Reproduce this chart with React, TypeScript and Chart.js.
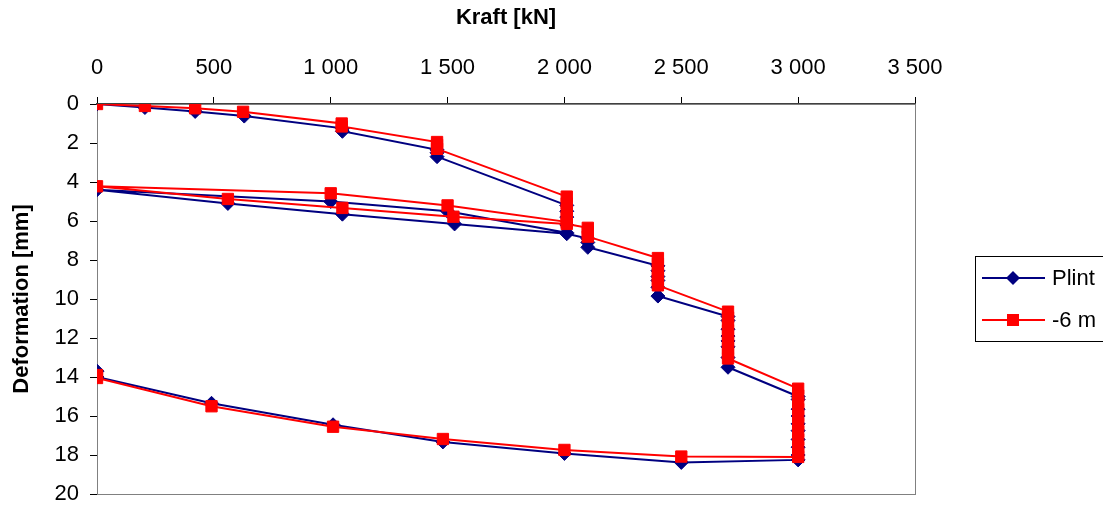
import React, { useEffect, useRef } from "react";
import { Chart, registerables } from "chart.js";

Chart.register(...registerables);

// Pile load test: applied force [kN] and measured deformation [mm]
const plintLoad = [
  0, 205, 420, 630, 1050, 1050, 1455, 1455, 1455,
  2010, 2010, 2010, 2010, 2010,
  1500, 1000, 0, 560, 1050, 1530, 2010,
  2100, 2100, 2100,
  2400, 2400, 2400, 2400, 2400, 2400,
  2700, 2700, 2700, 2700, 2700, 2700, 2700, 2700,
  3000, 3000, 3000, 3000, 3000, 3000, 3000, 3000, 3000, 3000,
  2500, 2000, 1480, 1010, 490, 0, 0,
];
const plintDef = [
  0, 0.18, 0.38, 0.62, 1.25, 1.4, 2.35, 2.5, 2.7,
  5.2, 5.5, 5.8, 6.2, 6.6,
  5.5, 5.0, 4.4, 5.1, 5.65, 6.15, 6.65,
  6.9, 7.1, 7.35,
  8.3, 8.55, 8.85, 9.05, 9.4, 9.85,
  10.9, 11.1, 11.55, 11.9, 12.15, 12.45, 13.0, 13.5,
  15.0, 15.15, 15.65, 16.0, 16.4, 16.75, 17.2, 17.6, 18.0, 18.25,
  18.38, 17.92, 17.33, 16.45, 15.35, 14.0, 13.7,
];

const minus6Load = [
  0, 205, 420, 625, 1047, 1047, 1455, 1455, 1455,
  2010, 2010, 2010, 2010, 2010,
  1500, 1000, 0, 560, 1050, 1525, 2010,
  2100, 2100, 2100,
  2400, 2400, 2400, 2400, 2400, 2400,
  2700, 2700, 2700, 2700, 2700, 2700, 2700, 2700, 2700,
  3000, 3000, 3000, 3000, 3000, 3000, 3000, 3000, 3000, 3000, 3000,
  2500, 2000, 1480, 1010, 490, 0, 0,
];
const minus6Def = [
  0, 0.1, 0.22, 0.4, 1.0, 1.15, 1.95, 2.1, 2.3,
  4.75, 5.1, 5.45, 5.8, 6.05,
  5.2, 4.58, 4.22, 4.87, 5.33, 5.78, 6.15,
  6.35, 6.55, 6.8,
  7.9, 8.2, 8.5, 8.8, 9.05, 9.3,
  10.65, 10.95, 11.3, 11.6, 11.9, 12.2, 12.5, 12.8, 13.05,
  14.6, 14.95, 15.3, 15.65, 16.0, 16.4, 16.8, 17.2, 17.6, 17.95, 18.1,
  18.08, 17.74, 17.18, 16.55, 15.5, 14.05, 13.9,
];

const seriesNames = ["Plint", "-6 m"];
const seriesColors = ["#000080", "#FF0000"];

const xTitle = "Kraft [kN]";
const yTitle = "Deformation [mm]";
const xMin = 0, xMax = 3500, xStep = 500;
const yMin = 0, yMax = 20, yStep = 2;

const FONT = "'Liberation Sans', Arial, sans-serif";

const withSpaces = (v: number) =>
  String(Math.round(v)).replace(/\B(?=(\d{3})+(?!\d))/g, " ");

const toPoints = (xs: number[], ys: number[]) =>
  xs.map((x, i) => ({ x, y: ys[i] }));

// Frame around the plot area
const framePlugin = {
  id: "plotFrame",
  beforeDatasetsDraw(chart: any) {
    const { ctx, chartArea: a } = chart;
    ctx.save();
    ctx.strokeStyle = "#808080";
    ctx.lineWidth = 1;
    ctx.strokeRect(a.left + 0.5, a.top + 0.5, a.right - a.left, a.bottom - a.top);
    ctx.restore();
  },
};

// Boxed legend at the right
const legendPlugin = {
  id: "boxLegend",
  afterDraw(chart: any) {
    const { ctx } = chart;
    ctx.save();
    ctx.strokeStyle = "#000000";
    ctx.lineWidth = 1;
    ctx.strokeRect(975.5, 256.5, 200, 85);
    const rows = [278, 320];
    rows.forEach((y, i) => {
      const color = seriesColors[i];
      ctx.strokeStyle = color;
      ctx.fillStyle = color;
      ctx.lineWidth = 2;
      ctx.beginPath();
      ctx.moveTo(982, y);
      ctx.lineTo(1045, y);
      ctx.stroke();
      const cx = 1013;
      if (i === 0) {
        ctx.beginPath();
        ctx.moveTo(cx - 7, y);
        ctx.lineTo(cx, y - 7);
        ctx.lineTo(cx + 7, y);
        ctx.lineTo(cx, y + 7);
        ctx.closePath();
        ctx.fill();
      } else {
        ctx.fillRect(cx - 6, y - 6, 12, 12);
      }
      ctx.fillStyle = "#000000";
      ctx.font = `22px ${FONT}`;
      ctx.textAlign = "left";
      ctx.textBaseline = "middle";
      ctx.fillText(seriesNames[i], 1052, y + 1);
    });
    ctx.restore();
  },
};

export default function App() {
  const canvasRef = useRef<HTMLCanvasElement | null>(null);

  useEffect(() => {
    document.body.style.margin = "0";
    const canvas = canvasRef.current;
    if (!canvas) return;
    const chart = new Chart(canvas, {
      type: "scatter",
      data: {
        datasets: [
          {
            label: seriesNames[0],
            data: toPoints(plintLoad, plintDef),
            showLine: true,
            borderColor: seriesColors[0],
            backgroundColor: seriesColors[0],
            borderWidth: 2,
            pointStyle: "rectRot",
            pointRadius: 7,
            pointBorderWidth: 1,
            pointBorderColor: seriesColors[0],
            pointBackgroundColor: seriesColors[0],
            order: 2,
          },
          {
            label: seriesNames[1],
            data: toPoints(minus6Load, minus6Def),
            showLine: true,
            borderColor: seriesColors[1],
            backgroundColor: seriesColors[1],
            borderWidth: 2,
            pointStyle: "rect",
            pointRadius: 8,
            pointBorderWidth: 1,
            pointBorderColor: seriesColors[1],
            pointBackgroundColor: seriesColors[1],
            order: 1,
          },
        ],
      },
      options: {
        responsive: false,
        animation: false,
        devicePixelRatio: 1,
        layout: { padding: { left: 0, top: 0, right: 188, bottom: 13 } },
        plugins: {
          legend: { display: false },
          tooltip: { enabled: false },
        },
        scales: {
          x: {
            type: "linear",
            position: "top",
            min: xMin,
            max: xMax,
            ticks: {
              stepSize: xStep,
              color: "#000000",
              font: { family: FONT, size: 22 },
              padding: 16,
              callback: (v: any) => withSpaces(Number(v)),
            },
            grid: {
              drawOnChartArea: false,
              drawTicks: true,
              tickLength: 7,
              color: "#000000",
            },
            border: { display: true, color: "#404040", width: 2 },
            title: {
              display: true,
              text: xTitle,
              color: "#000000",
              font: { family: FONT, size: 22, weight: "bold" },
              padding: { top: 5, bottom: 0 },
            },
            afterFit: (scale: any) => {
              scale.height = 104;
              scale.paddingLeft = 0;
              scale.paddingRight = 0;
            },
          },
          y: {
            type: "linear",
            reverse: true,
            min: yMin,
            max: yMax,
            ticks: {
              stepSize: yStep,
              color: "#000000",
              font: { family: FONT, size: 22 },
              padding: 11,
              callback: (v: any) => withSpaces(Number(v)),
            },
            grid: {
              drawOnChartArea: false,
              drawTicks: true,
              tickLength: 7,
              color: "#000000",
            },
            border: { display: true, color: "#000000", width: 1 },
            title: {
              display: true,
              text: yTitle,
              color: "#000000",
              font: { family: FONT, size: 22, weight: "bold" },
              padding: { top: 9, bottom: 0 },
            },
            afterFit: (scale: any) => {
              scale.width = 97;
              scale.paddingTop = 0;
              scale.paddingBottom = 0;
            },
          },
        },
      } as any,
      plugins: [framePlugin, legendPlugin],
    });
    return () => chart.destroy();
  }, []);

  return (
    <div style={{ position: "relative", width: 1103, height: 507, background: "#ffffff" }}>
      <canvas ref={canvasRef} width={1103} height={507} />
    </div>
  );
}
